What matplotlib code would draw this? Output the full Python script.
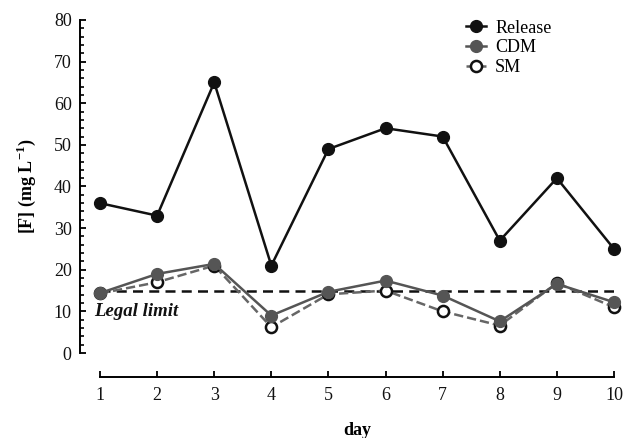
import matplotlib
matplotlib.use("Agg")
import matplotlib.pyplot as plt
from matplotlib.ticker import MultipleLocator

plt.rcParams['font.family'] = 'serif'
plt.rcParams['font.serif'] = ['Liberation Serif', 'DejaVu Serif']
plt.rcParams['mathtext.fontset'] = 'custom'
plt.rcParams['mathtext.rm'] = 'Liberation Serif:bold'
plt.rcParams['mathtext.bf'] = 'Liberation Serif:bold'

days = [1, 2, 3, 4, 5, 6, 7, 8, 9, 10]
release = [36, 33, 65, 21, 49, 54, 52, 27, 42, 25]
cdm = [14.4, 19, 21.4, 9, 14.7, 17.4, 13.8, 7.6, 16.6, 12.2]
sm = [14.3, 17, 21, 6.2, 14.1, 15, 10, 6.6, 16.8, 11]
legal_limit = 15

fig = plt.figure(figsize=(6.24, 4.38), dpi=100)
ax = fig.add_axes([100/624, 1 - 353/438, 514/624, 333/438])

ax.plot(days, release, '-o', color='#111111', lw=1.8, ms=8.5,
        label='Release', clip_on=False, zorder=5)
ax.plot(days, cdm, '-o', color='#555555', lw=1.8, ms=8.5,
        label='CDM', clip_on=False, zorder=4)
ax.plot(days, sm, '--o', color='#666666', lw=1.8, ms=8,
        mfc='white', mec='#111111', mew=1.8,
        label='SM', clip_on=False, zorder=3)
ax.axhline(legal_limit, color='#111111', lw=1.8, ls=(0, (4, 2.5)), zorder=2)
ax.text(0.9, 10, 'Legal limit', fontsize=13.5, fontweight='bold',
        fontstyle='italic', va='center', ha='left', color='#111111')

ax.set_xlim(1, 10)
ax.set_ylim(0, 80)
ax.set_xticks(days)
ax.yaxis.set_major_locator(MultipleLocator(10))
ax.yaxis.set_minor_locator(MultipleLocator(2))

for s in ['top', 'right']:
    ax.spines[s].set_visible(False)
ax.spines['left'].set_position(('outward', 14.4))
ax.spines['bottom'].set_position(('outward', 17.3))
ax.spines['left'].set_linewidth(1.4)
ax.spines['bottom'].set_linewidth(1.4)

ax.tick_params(axis='both', which='major', direction='in', length=4,
               width=1.4, labelsize=13, colors='#111111')
ax.tick_params(axis='y', which='minor', direction='in', length=3, width=1.2)
ax.tick_params(axis='y', which='major', pad=6)
ax.tick_params(axis='x', which='major', pad=7)

ax.set_xlabel('day', fontsize=13, fontweight='bold', labelpad=13)
ax.set_ylabel(r'[F] (mg L$^{\mathbf{-1}}$)', fontsize=13, fontweight='bold',
              labelpad=11)

ax.legend(loc='upper right', bbox_to_anchor=(0.91, 1.05), frameon=False,
          fontsize=13, handlelength=1.1, handletextpad=0.5,
          labelspacing=0.15)

fig.savefig('out.png', dpi=100)
